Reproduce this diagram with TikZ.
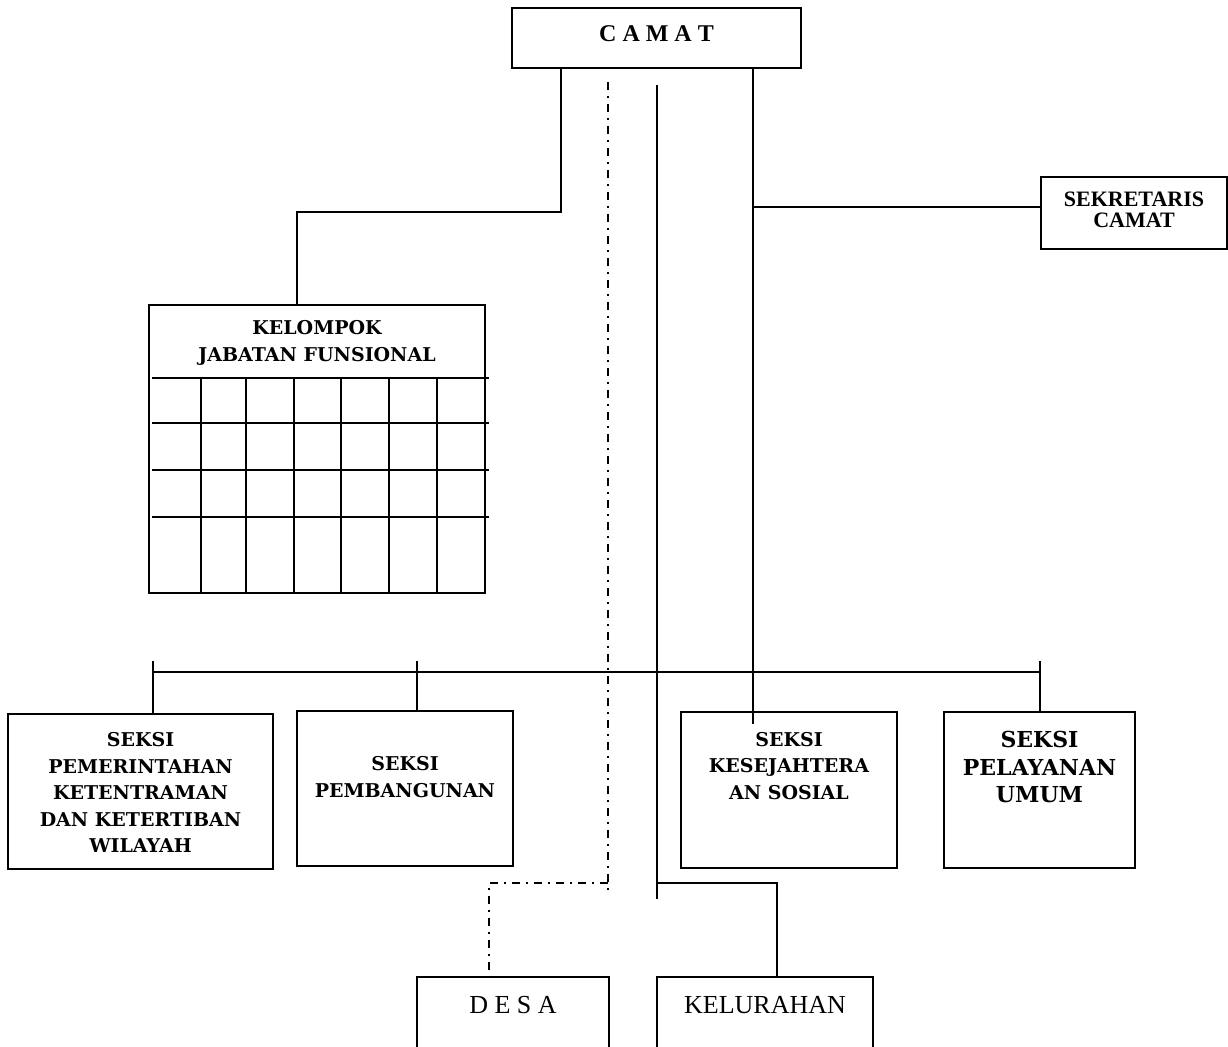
\documentclass[tikz,border=0pt]{standalone}
\usepackage{fontspec}
\setmainfont{Liberation Serif}
\newfontfamily\bookfont{DejaVu Serif}
\usetikzlibrary{positioning}

\tikzset{
  box/.style={draw, line width=1pt, inner sep=0pt},
  conn/.style={line width=1pt},
  dashdotline/.style={line width=1pt, dash pattern=on 4pt off 3pt on 1pt off 3pt},
  seksifont/.style={font=\bookfont\bfseries\fontsize{9.5}{13.25}\selectfont}
}
% text block of fixed size, first baseline at #3 from the top
\newcommand{\inbox}[4]{\parbox[c][#2][t]{#1}{\centering\rule{0pt}{#3}#4}}

\begin{document}
\begin{tikzpicture}[x=0.5pt,y=-0.5pt]
\useasboundingbox (0,0) rectangle (1228,1047);
\clip (0,0) rectangle (1228,1047);

% top
\node[box,font=\bfseries\fontsize{12}{14}\selectfont] (camat) at (656.5,38)
  {\inbox{144.5pt}{30pt}{17pt}{C A M A T}};
\node[box,font=\bfseries\fontsize{11}{10.5}\selectfont] (sek) at (1134,213)
  {\inbox{93pt}{36pt}{15pt}{SEKRETARIS\\CAMAT}};

% kelompok jabatan fungsional
\node[box,font=\bookfont\bfseries\fontsize{9.5}{13.5}\selectfont] (kjf) at (317,449)
  {\inbox{168pt}{144pt}{15pt}{KELOMPOK\\JABATAN FUNSIONAL}};
\draw[conn] (152,378) -- (489,378);
\draw[conn] (152,423) -- (489,423);
\draw[conn] (152,470) -- (489,470);
\draw[conn] (152,517) -- (489,517);
\draw[conn] (201,378) -- (201,593);
\draw[conn] (246,378) -- (246,593);
\draw[conn] (294,378) -- (294,593);
\draw[conn] (341,378) -- (341,593);
\draw[conn] (389,378) -- (389,593);
\draw[conn] (437,378) -- (437,593);

% seksi
\node[box,seksifont] (pkt) at (140.5,791.5)
  {\inbox{132.5pt}{77.5pt}{16.5pt}{SEKSI\\PEMERINTAHAN\\KETENTRAMAN\\DAN KETERTIBAN\\WILAYAH}};
\node[box,seksifont] (pmb) at (405,788.5)
  {\inbox{108pt}{77.5pt}{30pt}{SEKSI\\PEMBANGUNAN}};
\node[box,seksifont] (sos) at (789,790)
  {\inbox{108pt}{78pt}{17.25pt}{SEKSI\\KESEJAHTERA\\AN SOSIAL}};
\node[box,font=\bookfont\bfseries\fontsize{11}{13.75}\selectfont] (pel) at (1039.5,790)
  {\inbox{95.5pt}{78pt}{18pt}{SEKSI\\PELAYANAN\\UMUM}};

% desa / kelurahan
\node[box,font=\fontsize{13}{15}\selectfont] (desa) at (513,1023.5)
  {\inbox{96pt}{46.5pt}{18pt}{D E S A}};
\node[box,font=\fontsize{13}{15}\selectfont] (kel) at (765,1023.5)
  {\inbox{108pt}{46.5pt}{18pt}{KELURAHAN}};

% camat -> kelompok
\coordinate (jf) at (561,212);
\coordinate (jfd) at (297,212);
\draw[conn] (camat.south -| jf) -- (jf) -- (jfd) -- (jfd |- kjf.north);

% camat -> sekretaris
\coordinate (sk) at (753,207);
\coordinate (skend) at (753,724);
\draw[conn] (camat.south -| sk) -- (skend);
\draw[conn] (sk) -- (sk -| sek.west);

% bus to seksi
\coordinate (b0) at (153,672);
\coordinate (b1) at (1040,672);
\draw[conn] (b0) -- (b1);
\coordinate (t1) at (153,661);
\coordinate (t2) at (417,661);
\coordinate (t3) at (1040,661);
\draw[conn] (t1) -- (t1 |- pkt.north);
\draw[conn] (t2) -- (t2 |- pmb.north);
\draw[conn] (t3) -- (t3 |- pel.north);

% desa (dash dot)
\coordinate (ds0) at (608,82);
\coordinate (ds1) at (608,891);
\coordinate (ds2) at (608,883);
\coordinate (ds3) at (489,883);
\draw[dashdotline] (ds0) -- (ds1);
\draw[dashdotline] (ds2) -- (ds3) -- (ds3 |- desa.north);

% kelurahan
\coordinate (kl0) at (657,85);
\coordinate (kl1) at (657,899);
\coordinate (kl2) at (657,883);
\coordinate (kl3) at (777,883);
\draw[conn] (kl0) -- (kl1);
\draw[conn] (kl2) -- (kl3) -- (kl3 |- kel.north);
\end{tikzpicture}
\end{document}
